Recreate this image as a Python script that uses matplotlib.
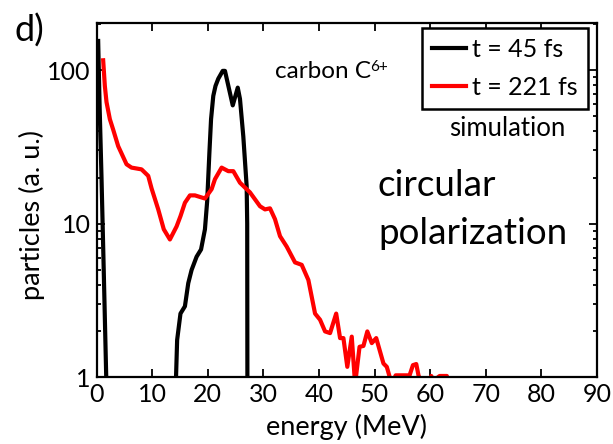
import numpy as np
import matplotlib
matplotlib.use('Agg')
import matplotlib.pyplot as plt
from matplotlib.ticker import LogLocator, NullFormatter, FixedLocator, FixedFormatter

plt.rcParams['font.family'] = ['Lato', 'DejaVu Sans']

# t = 45 fs : low energy spike + main peak (energy MeV, particles a.u.)
black_e1 = [0.3, 0.55, 0.9, 1.3, 1.75, 1.9]
black_v1 = [155, 60, 20, 5, 1.0, 0.5]

black_e2 = [14.2, 14.3, 14.5, 15.1, 15.9, 16.5, 17.1, 18.0, 18.8, 19.5, 19.9, 20.3,
            20.6, 21.0, 21.4, 21.9, 22.7, 23.1, 24.5, 25.4, 25.8, 26.4, 27.0, 27.1, 27.15]
black_v2 = [0.5, 1.0, 1.75, 2.6, 2.9, 4.1, 5.0, 6.1, 6.8, 9.2, 14, 29,
            48, 68, 79, 88, 99, 99, 59, 77, 65, 37, 17.6, 10, 0.3]

# t = 221 fs
red_e = [1.2, 1.5, 1.8, 2.4, 3.0, 3.9, 5.4, 6.3, 8.1, 9.3, 9.9, 11.1, 12.1, 13.2,
         14.4, 15.1, 15.9, 16.8, 17.7, 19.5, 20.7, 21.3, 22.5, 23.7, 24.6, 25.8,
         27.6, 29.4, 30.3, 31.2, 32.1, 33.0, 34.2, 35.7, 36.9, 38.1, 39.3, 40.2,
         41.1, 42.0, 43.1, 43.8, 44.4, 45.1, 45.9, 46.5, 47.3, 48.0, 48.7, 49.5,
         50.3, 51.6, 52.2, 53.1, 53.8, 56.3, 56.9, 57.5, 57.9, 58.5, 59.8, 60.2,
         60.6, 61.7, 63.0, 63.5, 70.0]
red_v = [116, 79, 62, 48, 41, 32, 24.4, 23.2, 22.6, 20.5, 17, 12.4, 9.2, 7.9,
         9.6, 11.2, 13.7, 15.3, 15.3, 14.6, 16.8, 19.5, 23.2, 22, 22, 18.5,
         16, 13.0, 12.4, 12.6, 10.7, 8.3, 7.1, 5.6, 5.4, 4.3, 2.6, 2.37,
         1.99, 1.94, 2.6, 1.8, 1.8, 1.17, 1.84, 0.9, 1.58, 1.6, 1.99, 1.67,
         1.8, 1.23, 1.17, 0.9, 1.03, 1.03, 1.2, 1.22, 1.03, 0.9, 0.95, 1.02,
         0.95, 1.02, 1.02, 0.5, 0.5]

xticks = [0, 10, 20, 30, 40, 50, 60, 70, 80, 90]
yticks = [1, 10, 100]
ytick_labels = ['1', '10', '100']

W, H = 613, 444
fig = plt.figure(figsize=(W / 100, H / 100), dpi=100)
ax = fig.add_axes([96.5 / W, 1 - 377.3 / H, (597 - 96.5) / W, (377.3 - 23.3) / H])

ax.plot(black_e1, black_v1, color='black', lw=3, solid_joinstyle='round')
l1, = ax.plot(black_e2, black_v2, color='black', lw=3, solid_joinstyle='round', label='t = 45 fs')
l2, = ax.plot(red_e, red_v, color='#ff0000', lw=3, solid_joinstyle='round', label='t = 221 fs')

ax.set_yscale('log')
ax.set_xlim(0, 90)
ax.set_ylim(1, 202)
ax.xaxis.set_major_locator(FixedLocator(xticks))
ax.yaxis.set_major_locator(FixedLocator(yticks))
ax.yaxis.set_major_formatter(FixedFormatter(ytick_labels))
ax.yaxis.set_minor_locator(LogLocator(base=10, subs=np.arange(2, 10)))
ax.yaxis.set_minor_formatter(NullFormatter())

ax.tick_params(which='both', direction='in', top=True, right=True, labelsize=18, width=1.3)
ax.tick_params(which='major', length=6, pad=4)
ax.tick_params(which='minor', length=3)
for s in ax.spines.values():
    s.set_linewidth(1.6)

ax.set_xlabel('energy (MeV)', fontsize=19.5, labelpad=6)
ax.set_ylabel('particles (a. u.)', fontsize=19.5)
ax.yaxis.set_label_coords(-0.103, 0.458)

leg = ax.legend(handles=[l1, l2], loc='upper right', bbox_to_anchor=(588 / W, 1 - 28 / H),
                bbox_transform=fig.transFigure, borderaxespad=0, fancybox=False,
                edgecolor='black', fontsize=18, handlelength=1.35, handletextpad=0.25,
                labelspacing=0.6, borderpad=0.4, framealpha=1)
leg.get_frame().set_linewidth(1.8)

carbon = fig.text(275 / W, 1 - 72 / H, 'carbon C', fontsize=17.5, va='center', ha='left')
ax.annotate('6+', xy=(1, 1), xycoords=carbon, xytext=(-0.5, 1), textcoords='offset points',
            fontsize=11, va='top', ha='left')
fig.text(565 / W, 1 - 128 / H, 'simulation', fontsize=18.5, va='center', ha='right')
fig.text(378 / W, 1 - 185 / H, 'circular', fontsize=26.5, va='center', ha='left')
fig.text(378 / W, 1 - 233 / H, 'polarization', fontsize=26.5, va='center', ha='left')
fig.text(15 / W, 1 - 31 / H, 'd)', fontsize=26, va='center', ha='left')

fig.savefig('out.png', dpi=100)
